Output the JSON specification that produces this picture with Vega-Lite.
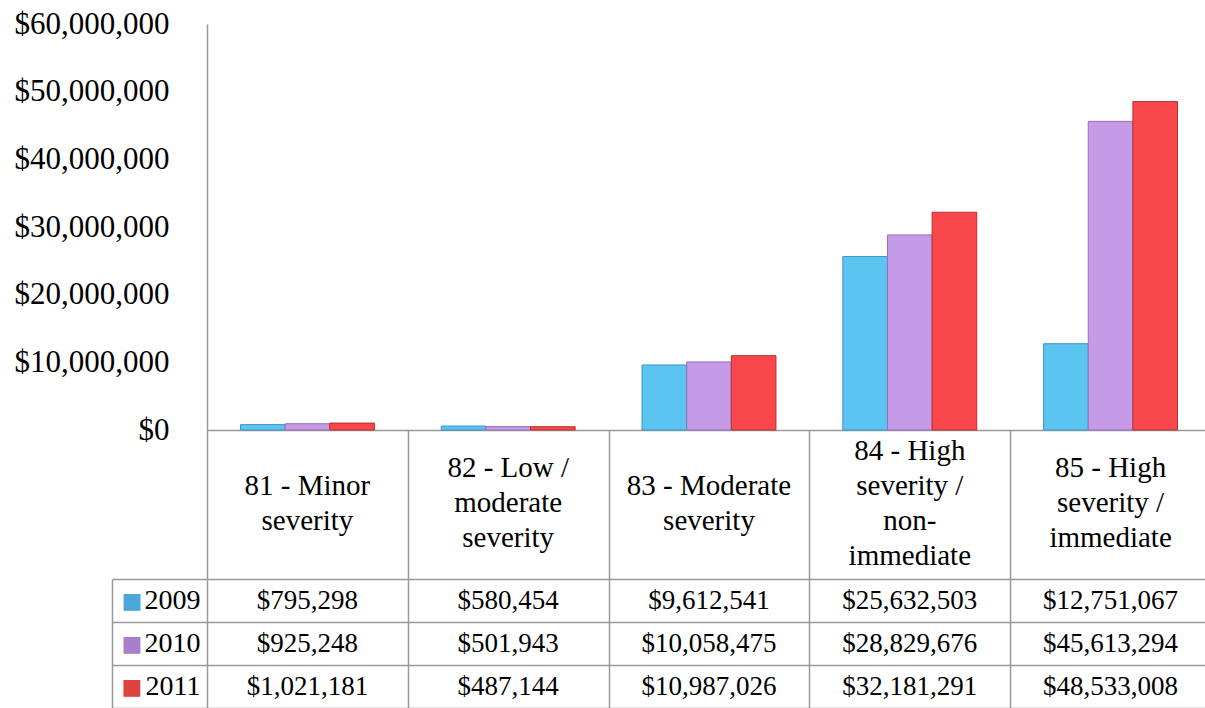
{
  "$schema": "https://vega.github.io/schema/vega-lite/v6.json",
  "padding": {"left": 14, "top": 8, "right": 0, "bottom": 0},
  "background": "white",
  "spacing": 0,
  "bounds": "flush",
  "config": {"view": {"stroke": null}, "font": "Liberation Serif"},
  "datasets": {
    "costs": [
      {"category": "81 - Minor severity", "year": "2009", "value": 795298},
      {"category": "81 - Minor severity", "year": "2010", "value": 925248},
      {"category": "81 - Minor severity", "year": "2011", "value": 1021181},
      {"category": "82 - Low / moderate severity", "year": "2009", "value": 580454},
      {"category": "82 - Low / moderate severity", "year": "2010", "value": 501943},
      {"category": "82 - Low / moderate severity", "year": "2011", "value": 487144},
      {"category": "83 - Moderate severity", "year": "2009", "value": 9612541},
      {"category": "83 - Moderate severity", "year": "2010", "value": 10058475},
      {"category": "83 - Moderate severity", "year": "2011", "value": 10987026},
      {"category": "84 - High severity / non-immediate", "year": "2009", "value": 25632503},
      {"category": "84 - High severity / non-immediate", "year": "2010", "value": 28829676},
      {"category": "84 - High severity / non-immediate", "year": "2011", "value": 32181291},
      {"category": "85 - High severity / immediate", "year": "2009", "value": 12751067},
      {"category": "85 - High severity / immediate", "year": "2010", "value": 45613294},
      {"category": "85 - High severity / immediate", "year": "2011", "value": 48533008}
    ],
    "cats": [
      {"category": "81 - Minor severity", "lines": ["81 - Minor", "severity"]},
      {"category": "82 - Low / moderate severity", "lines": ["82 - Low /", "moderate", "severity"]},
      {"category": "83 - Moderate severity", "lines": ["83 - Moderate", "severity"]},
      {"category": "84 - High severity / non-immediate", "lines": ["84 - High", "severity /", "non-", "immediate"]},
      {"category": "85 - High severity / immediate", "lines": ["85 - High", "severity /", "immediate"]}
    ]
  },
  "vconcat": [
    {
      "width": 1004,
      "height": 406,
      "data": {"name": "costs"},
      "mark": {"type": "bar", "strokeWidth": 1},
      "encoding": {
        "x": {
          "field": "category", "type": "nominal", "sort": null,
          "scale": {"type": "band", "paddingInner": 0.333, "paddingOuter": 0.1667},
          "axis": {"labels": false, "ticks": false, "title": null, "domainColor": "#999999", "domainWidth": 1.5}
        },
        "xOffset": {"field": "year", "type": "nominal", "scale": {"paddingInner": 0, "paddingOuter": 0}},
        "y": {
          "field": "value", "type": "quantitative",
          "scale": {"domain": [0, 60000000]},
          "axis": {
            "values": [0, 10000000, 20000000, 30000000, 40000000, 50000000, 60000000],
            "format": "$,.0f", "title": null, "grid": false, "ticks": false,
            "domainColor": "#999999", "domainWidth": 1.5,
            "labelFontSize": 31, "labelPadding": 38, "labelColor": "black", "labelFont": "Liberation Serif"
          }
        },
        "color": {"field": "year", "type": "nominal", "scale": {"range": ["#5BC4F1", "#C59AE6", "#F9474B"]}, "legend": null},
        "stroke": {"field": "year", "type": "nominal", "scale": {"range": ["#3D96C6", "#9570B5", "#B82E30"]}, "legend": null}
      }
    },
    {
      "width": 1004,
      "height": 149,
      "data": {"name": "cats"},
      "encoding": {
        "x": {
          "field": "category", "type": "nominal",
          "sort": ["81 - Minor severity", "82 - Low / moderate severity", "83 - Moderate severity", "84 - High severity / non-immediate", "85 - High severity / immediate"],
          "scale": {"type": "band", "paddingInner": 0, "paddingOuter": 0},
          "axis": {"labels": false, "ticks": false, "domain": false, "grid": true, "tickBand": "extent", "gridColor": "#999999", "gridWidth": 1.5, "title": null}
        },
        "text": {"field": "lines", "type": "nominal"}
      },
      "layer": [
        {
          "transform": [{"filter": {"field": "category", "oneOf": ["81 - Minor severity", "83 - Moderate severity"]}}],
          "mark": {"type": "text", "fontSize": 29, "lineHeight": 35, "baseline": "middle", "font": "Liberation Serif", "color": "black", "dy": -19}
        },
        {
          "transform": [{"filter": {"field": "category", "oneOf": ["82 - Low / moderate severity", "85 - High severity / immediate"]}}],
          "mark": {"type": "text", "fontSize": 29, "lineHeight": 35, "baseline": "middle", "font": "Liberation Serif", "color": "black", "dy": -37}
        },
        {
          "transform": [{"filter": {"field": "category", "oneOf": ["84 - High severity / non-immediate"]}}],
          "mark": {"type": "text", "fontSize": 29, "lineHeight": 35, "baseline": "middle", "font": "Liberation Serif", "color": "black", "dy": -54}
        }
      ]
    },
    {
      "width": 1004,
      "height": 129,
      "data": {"name": "costs"},
      "resolve": {"axis": {"y": "independent"}},
      "layer": [
        {
          "mark": {"type": "text", "fontSize": 27, "font": "Liberation Serif", "color": "black"},
          "encoding": {
            "x": {
              "field": "category", "type": "nominal", "sort": null,
              "scale": {"type": "band", "paddingInner": 0, "paddingOuter": 0},
              "axis": {"labels": false, "ticks": false, "domain": false, "grid": true, "tickBand": "extent", "gridColor": "#999999", "gridWidth": 1.5, "title": null}
            },
            "y": {
              "field": "year", "type": "nominal",
              "scale": {"type": "band", "paddingInner": 0, "paddingOuter": 0},
              "axis": {
                "orient": "left", "title": null, "domain": false,
                "ticks": true, "tickSize": 95, "tickBand": "extent", "tickColor": "#999999", "tickWidth": 1.5,
                "grid": true, "gridColor": "#999999", "gridWidth": 1.5,
                "labelFontSize": 28, "labelFont": "Liberation Serif", "labelPadding": -88, "labelColor": "black"
              }
            },
            "text": {"field": "value", "type": "quantitative", "format": "$,.0f"}
          }
        },
        {
          "mark": {"type": "text", "text": ""},
          "encoding": {
            "y": {
              "field": "year", "type": "nominal",
              "axis": {
                "orient": "left", "offset": 95, "title": null,
                "domain": true, "domainColor": "#999999", "domainWidth": 1.5,
                "ticks": false, "grid": false,
                "labelExpr": "'■'", "labelFont": "DejaVu Sans", "labelFontSize": 22,
                "labelAlign": "left", "labelPadding": -9,
                "labelColor": {"condition": [{"test": "datum.value == '2009'", "value": "#4BA6DA"}, {"test": "datum.value == '2010'", "value": "#A77FCB"}], "value": "#E04141"}
              }
            }
          }
        }
      ]
    }
  ]
}
